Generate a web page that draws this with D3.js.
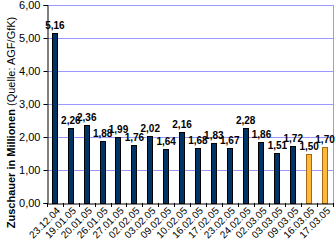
<!DOCTYPE html>
<html><head><meta charset="utf-8">
<script src="https://cdn.jsdelivr.net/npm/d3@7"></script>
<style>body{margin:0;background:#fff}svg{display:block}</style>
</head><body>
<svg id="c" width="336" height="247"></svg>
<script>
const categories = ["23.12.04","19.01.05","20.01.05","26.01.05","27.01.05","02.02.05","03.02.05","09.02.05","10.02.05","16.02.05","17.02.05","23.02.05","24.02.05","02.03.05","03.03.05","09.03.05","16.03.05","17.03.05"];
const values = [5.16,2.26,2.36,1.88,1.99,1.76,2.02,1.64,2.16,1.68,1.83,1.67,2.28,1.86,1.51,1.72,1.50,1.70];
const highlighted = ["16.03.05","17.03.05"];
const yTicks = [0,1,2,3,4,5,6];

const svg = d3.select("#c");
const L = 47, R = 333, T = 5, B = 203;
const x = d3.scaleBand().domain(categories).range([L, R]).paddingInner(0.62).paddingOuter(0.31);
const y = d3.scaleLinear().domain([0, 6]).range([B, T]);
const fmt = v => d3.format(".2f")(v).replace(".", ",");

// gridlines
svg.append("g").selectAll("line").data(yTicks.filter(d => d > 0)).join("line")
  .attr("x1", L).attr("x2", R).attr("y1", d => y(d) + 0.5).attr("y2", d => y(d) + 0.5)
  .attr("stroke", "#9999ff").attr("stroke-width", 1);
// right border
svg.append("line").attr("x1", R + 0.5).attr("x2", R + 0.5).attr("y1", T).attr("y2", B)
  .attr("stroke", "#9999ff");

// bars
svg.append("g").selectAll("rect").data(categories).join("rect")
  .attr("x", d => Math.round(x(d)) + 0.5)
  .attr("y", (d, i) => Math.round(y(values[i])) + 0.5)
  .attr("width", Math.round(x.bandwidth()) - 1)
  .attr("height", (d, i) => B - Math.round(y(values[i])))
  .attr("fill", d => highlighted.includes(d) ? "#ffb83c" : "#003366")
  .attr("stroke", d => highlighted.includes(d) ? "#a06a10" : "#000")
  .attr("stroke-width", 1);

// value labels
svg.append("g").selectAll("text").data(categories).join("text")
  .attr("x", d => x(d) + x.bandwidth() / 2)
  .attr("y", (d, i) => y(values[i]) - 4)
  .attr("text-anchor", "middle")
  .attr("font-family", "Liberation Sans, Arial, sans-serif")
  .attr("font-size", 10).attr("font-weight", "bold").attr("fill", "#000")
  .text((d, i) => fmt(values[i]));

// y axis
const yAxis = d3.axisLeft(y).tickValues(yTicks).tickSize(4).tickPadding(3).tickFormat(fmt);
const gy = svg.append("g").attr("transform", `translate(${L + 0.5},0)`).call(yAxis);
gy.select(".domain").attr("stroke", "#000");
gy.selectAll(".tick line").attr("stroke", "#000");
gy.selectAll("text").attr("font-family", "Liberation Sans, Arial, sans-serif").attr("font-size", 11).attr("fill", "#000");

// x axis
const xAxis = d3.axisBottom(x).tickSize(0).tickPadding(0);
const gx = svg.append("g").attr("transform", `translate(0,${B + 0.5})`).call(xAxis);
gx.select(".domain").attr("stroke", "#000");
gx.selectAll(".tick text")
  .attr("font-family", "Liberation Sans, Arial, sans-serif").attr("font-size", 10).attr("fill", "#000")
  .attr("text-anchor", "end").attr("dy", null)
  .attr("transform", "translate(4,6) rotate(-45)")
  .attr("dominant-baseline", "middle");
// x tick marks between categories
const step = x.step();
const bounds = d3.range(categories.length + 1).map(i => L + i * (R - L) / categories.length);
svg.append("g").selectAll("line").data(bounds).join("line")
  .attr("x1", d => Math.round(d) + 0.5).attr("x2", d => Math.round(d) + 0.5)
  .attr("y1", B).attr("y2", B + 4).attr("stroke", "#000");

// y title
const t = svg.append("text")
  .attr("transform", `translate(15,${(T + 240) / 2}) rotate(-90)`)
  .attr("text-anchor", "middle")
  .attr("font-family", "Liberation Sans, Arial, sans-serif").attr("font-size", 11).attr("fill", "#000");
t.append("tspan").attr("font-weight", "bold").text("Zuschauer in Millionen");
t.append("tspan").text("  (Quelle: AGF/GfK)");
</script>
</body></html>
